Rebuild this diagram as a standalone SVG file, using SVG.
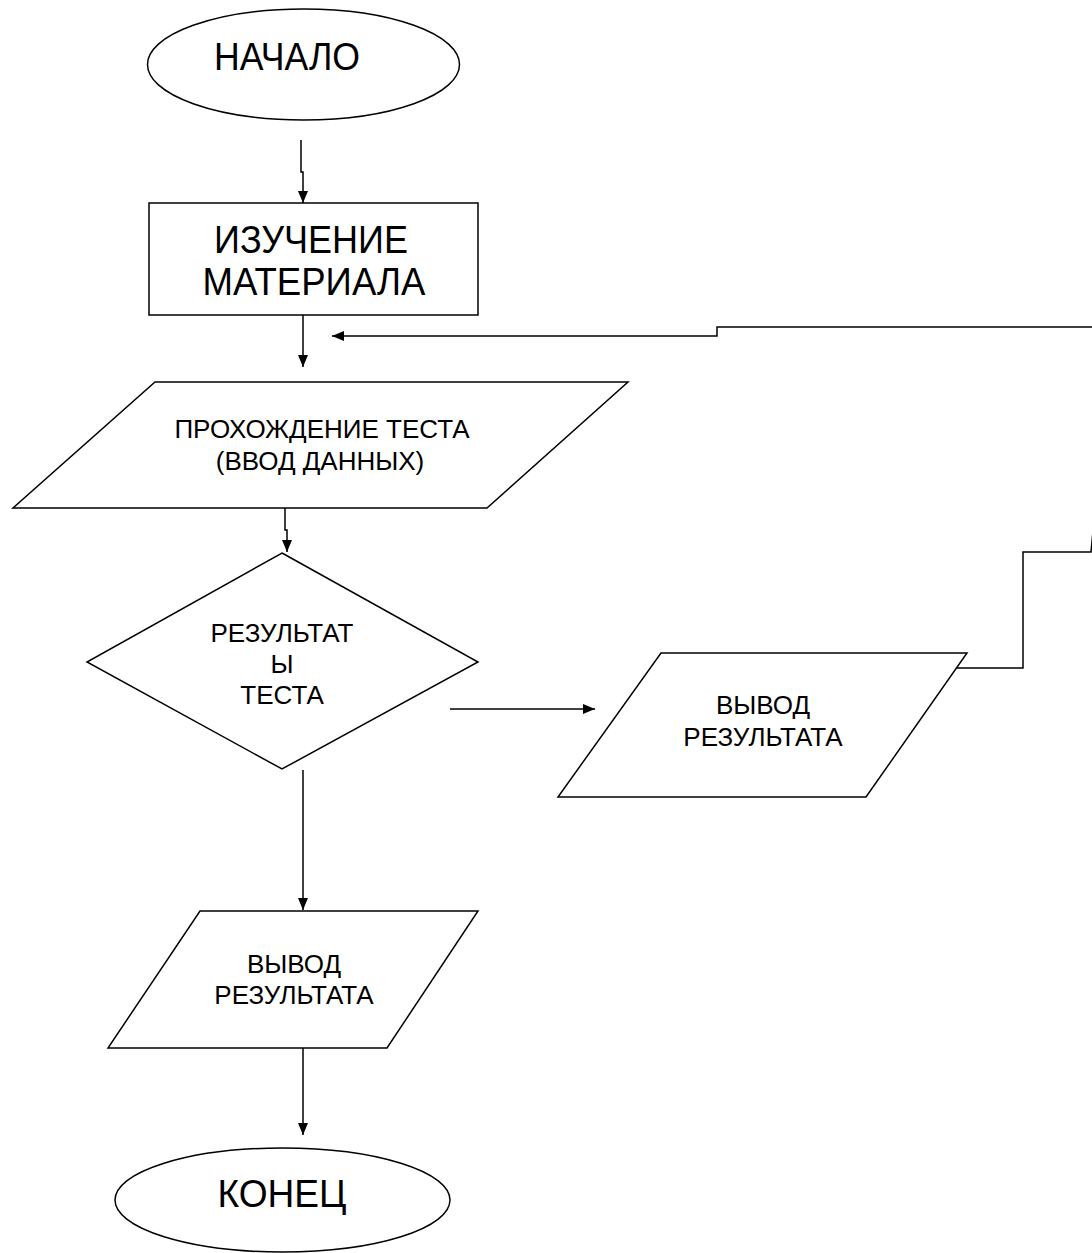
<svg xmlns="http://www.w3.org/2000/svg" width="1092" height="1253" viewBox="0 0 1092 1253">
<defs>
<marker id="ah" markerWidth="12" markerHeight="10" refX="12" refY="5" orient="auto" markerUnits="userSpaceOnUse">
<path d="M0,0 L12,5 L0,10 Z" fill="#000"/>
</marker>
<style>
.s{fill:#fff;stroke:#000;stroke-width:1.5}
.c{fill:none;stroke:#000;stroke-width:1.5}
text{font-family:"Liberation Sans",Arial,sans-serif;fill:#000;text-anchor:middle}
.b{font-size:39px}
.m{font-size:26px}
</style>
</defs>
<rect width="1092" height="1253" fill="#fff"/>
<g id="connectors">
<path class="c" d="M301,140 V172 H303 V203" marker-end="url(#ah)"/>
<path class="c" d="M303,315 V367" marker-end="url(#ah)"/>
<path class="c" d="M1130,600 V327 H717 V336 H332" marker-end="url(#ah)"/>
<path class="c" d="M957,668 H1023 V552 H1091 L1095,510"/>
<path class="c" d="M285,508 V530 H287 V552" marker-end="url(#ah)"/>
<path class="c" d="M450,709 H595" marker-end="url(#ah)"/>
<path class="c" d="M303,770 V910" marker-end="url(#ah)"/>
<path class="c" d="M303,1048 V1135" marker-end="url(#ah)"/>
</g>
<g id="start">
<ellipse class="s" cx="303.5" cy="64.5" rx="156" ry="55.5"/>
<text class="b" x="287" y="70" textLength="146" lengthAdjust="spacingAndGlyphs">НАЧАЛО</text>
</g>
<g id="study">
<rect class="s" x="149" y="203" width="329" height="112"/>
<text class="b" x="311" y="253" textLength="194" lengthAdjust="spacingAndGlyphs">ИЗУЧЕНИЕ</text>
<text class="b" x="314" y="295" textLength="223" lengthAdjust="spacingAndGlyphs">МАТЕРИАЛА</text>
</g>
<g id="test">
<polygon class="s" points="155,382 628,382 487,508 13,508"/>
<text class="m" x="322" y="438">ПРОХОЖДЕНИЕ ТЕСТА</text>
<text class="m" x="320" y="470">(ВВОД ДАННЫХ)</text>
</g>
<g id="decision">
<polygon class="s" points="282,553 478,662 282,769 87,662"/>
<text class="m" x="282" y="642">РЕЗУЛЬТАТ</text>
<text class="m" x="282" y="673">Ы</text>
<text class="m" x="282" y="704">ТЕСТА</text>
</g>
<g id="output-right">
<polygon class="s" points="661,653 967,653 866,797 558,797"/>
<text class="m" x="763" y="714">ВЫВОД</text>
<text class="m" x="763" y="746">РЕЗУЛЬТАТА</text>
</g>
<g id="output-bottom">
<polygon class="s" points="200,911 478,911 387,1048 108,1048"/>
<text class="m" x="294" y="973">ВЫВОД</text>
<text class="m" x="294" y="1004">РЕЗУЛЬТАТА</text>
</g>
<g id="end">
<ellipse class="s" cx="282.5" cy="1200" rx="167.5" ry="52"/>
<text class="b" x="282" y="1207" textLength="129" lengthAdjust="spacingAndGlyphs">КОНЕЦ</text>
</g>
</svg>
